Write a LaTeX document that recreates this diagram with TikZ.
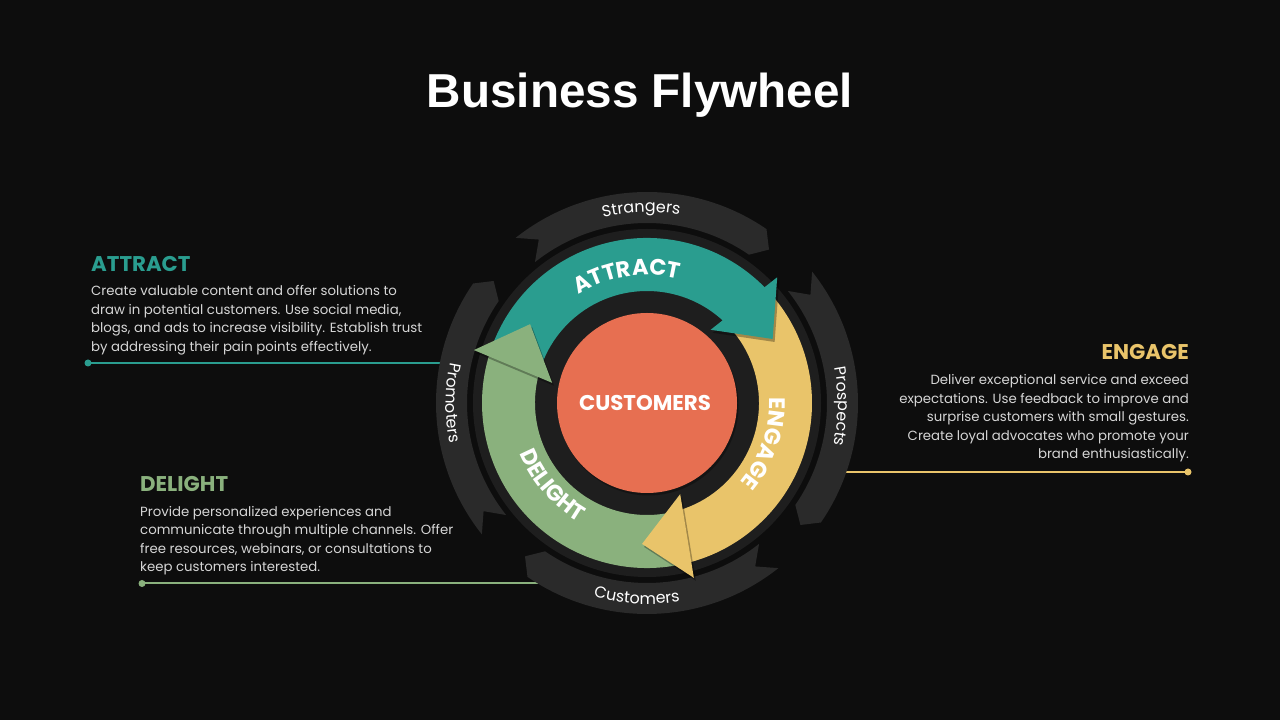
\documentclass[tikz,border=0pt]{standalone}
\usepackage{fontspec}
\setmainfont{Poppins}
\newfontfamily\titlefont{Liberation Sans}
\usetikzlibrary{decorations.text}
\definecolor{bg}{HTML}{0D0D0D}
\definecolor{tealc}{HTML}{2A9D8F}
\definecolor{yelc}{HTML}{E9C46A}
\definecolor{grnc}{HTML}{8AB17D}
\definecolor{coralc}{HTML}{E76F51}
\definecolor{segc}{HTML}{2A2A2A}
\definecolor{rimc}{HTML}{1E1E1E}
\definecolor{bodytxt}{HTML}{D6D6D6}
\tikzset{
  titlestyle/.style={font=\titlefont\bfseries\fontsize{47.8}{50}\selectfont, text=white, inner sep=0},
  headstyle/.style={font=\bfseries\fontsize{21.4}{24}\selectfont, inner sep=0},
  bodyline/.style={font=\fontsize{13.35}{18.5}\selectfont, text=bodytxt, inner sep=0},
  guide/.style={line width=2bp},
  segfill/.style={fill=segc},
  arrowshadow/.style={fill=black, opacity=0.3},
}
\begin{document}
\begin{tikzpicture}[x=1bp,y=1bp]
\useasboundingbox (0,0) rectangle (1280,720);
\fill[bg] (0,0) rectangle (1280,720);

% title
\node[titlestyle, anchor=base] (title) at (640,612) {Business Flywheel};

% guide lines (behind the wheel)
\coordinate (aend) at (455,357);
\coordinate (dend) at (560,136.5);
\coordinate (eend) at (835,248);
\fill[tealc] (88,357) circle[radius=3.5] coordinate (adot);
\fill[grnc] (142,136.5) circle[radius=3.5] coordinate (ddot);
\fill[yelc] (1188,248) circle[radius=3.5] coordinate (edot);
\draw[guide, tealc] (adot) -- (aend);
\draw[guide, grnc] (ddot) -- (dend);
\draw[guide, yelc] (edot) -- (eend);

% ATTRACT text block
\node[headstyle, text=tealc, anchor=base west] (ah) at (91,448.3) {ATTRACT};
\node[bodyline, anchor=base west] (a1) at (91,424) {Create valuable content and offer solutions to};
\node[bodyline, anchor=base west] (a2) at (91,405.5) {draw in potential customers. Use social media,};
\node[bodyline, anchor=base west] (a3) at (91,387) {blogs, and ads to increase visibility. Establish trust};
\node[bodyline, anchor=base west] (a4) at (91,368.5) {by addressing their pain points effectively.};

% DELIGHT text block
\node[headstyle, text=grnc, anchor=base west] (dh) at (140,228.3) {DELIGHT};
\node[bodyline, anchor=base west] (d1) at (140,203.5) {Provide personalized experiences and};
\node[bodyline, anchor=base west] (d2) at (140,185) {communicate through multiple channels. Offer};
\node[bodyline, anchor=base west] (d3) at (140,166.5) {free resources, webinars, or consultations to};
\node[bodyline, anchor=base west] (d4) at (140,148) {keep customers interested.};

% ENGAGE text block
\node[headstyle, text=yelc, anchor=base east] (eh) at (1189,360) {ENGAGE};
\node[bodyline, anchor=base east] (e1) at (1189,335) {Deliver exceptional service and exceed};
\node[bodyline, anchor=base east] (e2) at (1189,316.5) {expectations. Use feedback to improve and};
\node[bodyline, anchor=base east] (e3) at (1189,298) {surprise customers with small gestures.};
\node[bodyline, anchor=base east] (e4) at (1189,279.5) {Create loyal advocates who promote your};
\node[bodyline, anchor=base east] (e5) at (1189,261) {brand enthusiastically.};

% wheel
\begin{scope}[shift={(647,317)}]
  % outer grey chevron segments
  \foreach \c in {90,0,-90,180}{
    \pgfmathsetmacro\ta{\c+38.5}
    \pgfmathsetmacro\tn{\c+33.5}
    \pgfmathsetmacro\ha{\c-38.5}
    \pgfmathsetmacro\hb{\c-34.5}
    \fill[segfill] (\ta:211) arc[start angle=\ta, end angle=\hb, radius=211]
      -- (\ha:196) -- (\hb:180) arc[start angle=\hb, end angle=\ta, radius=180]
      -- (\tn:196) -- cycle;
  }
  % labels on the grey ring
  \path[decorate, decoration={text along path, text align=center,
    text={|\fontsize{16}{18}\selectfont\color{white}|Strangers}}]
    (141.7:191) arc[start angle=141.7, end angle=41.7, radius=191];
  \path[decorate, decoration={text along path, text align=center,
    text={|\fontsize{16}{18}\selectfont\color{white}|Prospects}}]
    (49:191) arc[start angle=49, end angle=-51, radius=191];
  \path[decorate, decoration={text along path, text align=center,
    text={|\fontsize{16}{18}\selectfont\color{white}|Customers}}]
    (217:201) arc[start angle=217, end angle=317, radius=201];
  \path[decorate, decoration={text along path, text align=center,
    text={|\fontsize{16}{18}\selectfont\color{white}|Promoters}}]
    (130:201) arc[start angle=130, end angle=230, radius=201];

  % dark rim disk
  \fill[rimc] (0,0) circle[radius=174];

  % arrow bodies
  \fill[tealc] (162:165) arc[start angle=162, end angle=43, radius=165]
    -- (43:112) arc[start angle=43, end angle=162, radius=112] -- cycle;
  \fill[yelc] (43:165) arc[start angle=43, end angle=-76, radius=165]
    -- (-76:112) arc[start angle=-76, end angle=43, radius=112] -- cycle;
  \fill[grnc] (-76:165) arc[start angle=-76, end angle=-198, radius=165]
    -- (-198:112) arc[start angle=-198, end angle=-76, radius=112] -- cycle;

  % arrow head shadows
  \begin{scope}[shift={(2,-3)}]
    \fill[arrowshadow] (44:181) -- (27:141) -- (49:97) -- cycle;
    \fill[arrowshadow] (-75:181) -- (-92:141) -- (-70:97) -- cycle;
    \fill[arrowshadow] (163:181) -- (146:141) -- (168:97) -- cycle;
  \end{scope}
  % arrow heads
  \fill[tealc] (44:181) -- (27:141) -- (49:97) -- cycle;
  \fill[yelc] (-75:181) -- (-92:141) -- (-70:97) -- cycle;
  \fill[grnc] (163:181) -- (146:141) -- (168:97) -- cycle;

  % labels on the arrows
  \path[decorate, decoration={text along path, text align=center,
    text={|\bfseries\fontsize{22.5}{24}\selectfont\color{white}|ATTRACT}}]
    (149:128) arc[start angle=149, end angle=49, radius=128];
  \path[decorate, decoration={text along path, text align=center,
    text={|\bfseries\fontsize{22.5}{24}\selectfont\color{white}|ENGAGE}}]
    (31:122) arc[start angle=31, end angle=-69, radius=122];
  \path[decorate, decoration={text along path, text align=center,
    text={|\bfseries\fontsize{22.5}{24}\selectfont\color{white}|DELIGHT}}]
    (171:137) arc[start angle=171, end angle=271, radius=137];

  % centre
  \fill[black, opacity=0.3] (1.5,-2.5) circle[radius=90];
  \fill[coralc] (0,0) circle[radius=90];
  \node[font=\bfseries\fontsize{21.4}{23}\selectfont, text=white, inner sep=0] (cust) at (-2,0) {CUSTOMERS};
\end{scope}
\end{tikzpicture}
\end{document}
